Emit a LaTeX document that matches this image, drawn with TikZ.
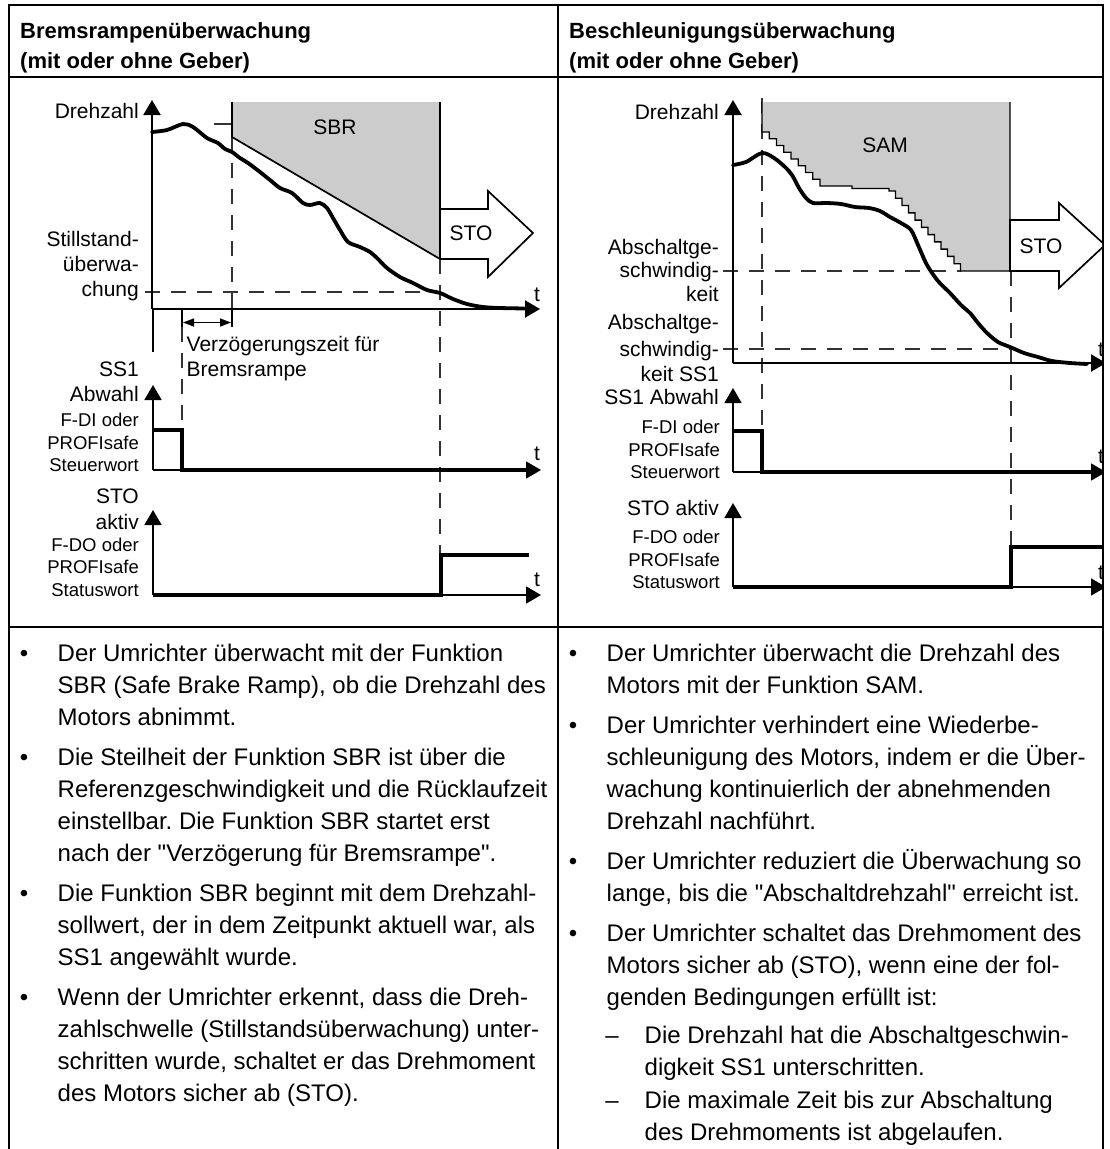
\documentclass[tikz,border=0pt]{standalone}
\usepackage{fontspec}
\setmainfont{Liberation Sans}[Ligatures=TeXOff]
\usetikzlibrary{arrows.meta}
\frenchspacing
\tikzset{
  frameline/.style={line width=2.4pt, black},
  axisline/.style={line width=2.2pt, -{Triangle[length=15pt,width=17pt]}},
  speedline/.style={line width=3.8pt, line join=round, line cap=round},
  sigline/.style={line width=3.4pt, line join=miter},
  guide/.style={line width=1.4pt, dash pattern=on 15pt off 11pt, black!80},
  zone/.style={fill=black!20},
  zoneedge/.style={line width=1.7pt, line join=miter},
  stoarrow/.style={fill=white, draw, line width=1.7pt, line join=miter},
  lbl/.style={font=\fontsize{21}{25}\selectfont, inner sep=0pt, anchor=base east},
  lblw/.style={font=\fontsize{21}{25}\selectfont, inner sep=0pt, anchor=base west},
  lblc/.style={font=\fontsize{21}{25}\selectfont, inner sep=0pt, anchor=base},
  smalllbl/.style={font=\fontsize{18.5}{22}\selectfont, inner sep=0pt, anchor=base east},
  body/.style={font=\fontsize{24}{32}\selectfont, inner sep=0pt, anchor=base west},
  bul/.style={font=\fontsize{24}{32}\selectfont, inner sep=0pt, anchor=base},
  head/.style={font=\bfseries\fontsize{22}{30}\selectfont, inner sep=0pt, anchor=base west},
}
\begin{document}
\begin{tikzpicture}[x=1pt,y=-1pt]
\useasboundingbox (0,0) rectangle (1109,1149);

% ---------- frame ----------
\draw[frameline] (9,1149) -- (9,5) -- (1103,5) -- (1103,1149);
\draw[frameline] (558,5) -- (558,1149);
\draw[frameline] (9,77) -- (1103,77);
\draw[frameline] (9,627) -- (1103,627);

% ---------- headers ----------
\node[head] (hl1) at (20,38) {Bremsrampenüberwachung};
\node[head] (hl2) at (20,68) {(mit oder ohne Geber)};
\node[head] (hr1) at (569,38) {Beschleunigungsüberwachung};
\node[head] (hr2) at (569,68) {(mit oder ohne Geber)};

% =============== LEFT DIAGRAM ===============
% guides
\draw[guide] (232,137) -- (232,309);
\draw[guide] (440,259) -- (440,555);
\draw[guide] (145,292) -- (440,292);
\draw[guide] (182,327) -- (182,430);
\draw[line width=1.4pt, black!80] (214,124) -- (232,124);
\draw[line width=1.3pt] (153,309) -- (153,352);
\draw[line width=1.3pt] (182,309) -- (182,327);
\draw[line width=1.3pt] (232,309) -- (232,327);
\draw[line width=1.5pt, {Triangle[length=11pt,width=8pt]}-{Triangle[length=11pt,width=8pt]}] (183,322.5) -- (231,322.5);

% SBR zone
\fill[zone] (232,102) -- (440,102) -- (440,259) -- (232,137) -- cycle;
\draw[zoneedge] (232,102) -- (232,137) -- (440,259) -- (440,102);
\node[lblc] (sbr) at (335,134) {SBR};

% STO arrow
\draw[stoarrow] (440,209) -- (488,209) -- (488,191) -- (533,233) -- (488,277) -- (488,259) -- (440,259) -- cycle;
\node[lblc] (stoL) at (471,240.5) {STO};

% axes
\draw[axisline] (152,309) -- (152,100);
\draw[axisline] (152,309) -- (540,309);
\draw[speedline] plot[smooth, tension=0.5] coordinates {(152,132) (167,130) (183,124) (193,127) (207,138) (218,143) (225,149) (232,152) (240,158) (248,163) (260,172) (270,180) (280,188) (292,193) (303,203) (310,205) (320,203) (327,208) (333,218) (340,230) (348,242) (360,247) (370,252) (377,258) (387,268) (400,277) (413,283) (427,290) (440,293) (453,299) (467,304) (483,307) (500,308) (525,308.5)};

\node[lbl] (drL) at (139,118.5) {Drehzahl};
\node[lbl] (st1) at (139,246.5) {Stillstand-};
\node[lbl] (st2) at (139,271.5) {überwa-};
\node[lbl] (st3) at (139,296.5) {chung};
\node[lblw] (tL1) at (534,301) {t};
\node[lblw] (vz1) at (186.5,351.5) {Verzögerungszeit für};
\node[lblw] (vz2) at (186.5,376.5) {Bremsrampe};

% SS1 plot
\draw[axisline, line width=1.8pt] (153,470) -- (153,385);
\draw[axisline, line width=1.8pt] (153,470) -- (541,470);
\draw[sigline] (153,430) -- (182,430) -- (182,470) -- (527,470);
\node[lbl] (ssL1) at (139,376.5) {SS1};
\node[lbl] (ssL2) at (139,401.5) {Abwahl};
\node[smalllbl] (fd1) at (139,426.5) {F-DI oder};
\node[smalllbl] (fd2) at (139,449) {PROFIsafe};
\node[smalllbl] (fd3) at (139,471.5) {Steuerwort};
\node[lblw] (tL2) at (534,460) {t};

% STO plot
\draw[axisline, line width=1.8pt] (153,595) -- (153,510);
\draw[axisline, line width=1.8pt] (153,595) -- (541,595);
\draw[sigline] (153,595) -- (441,595) -- (441,555) -- (529,555);
\node[lbl] (soL1) at (139,503.5) {STO};
\node[lbl] (soL2) at (139,529.5) {aktiv};
\node[smalllbl] (fo1) at (139,551) {F-DO oder};
\node[smalllbl] (fo2) at (139,573.5) {PROFIsafe};
\node[smalllbl] (fo3) at (139,596) {Statuswort};
\node[lblw] (tL3) at (534,586) {t};

% =============== RIGHT DIAGRAM ===============
\begin{scope}
\clip (559,78) rectangle (1102,626);
\draw[guide] (762,98) -- (762,431);
\draw[guide] (1011,271) -- (1011,547);
\draw[guide] (723,271) -- (961,271);
\draw[guide] (723,349) -- (1010,349);

% SAM zone with staircase
\fill[zone] (762,102) -- (762,132)
  \foreach \i in {1,...,8} { -- ++(7.25,0) -- ++(0,6.75) }
  -- (852,186) -- (852,188.5) -- (889,188.5) -- (889,191)
  \foreach \i in {1,...,11} { -- ++(6.5,0) -- ++(0,7.27) }
  -- (1010,271) -- (1010,102) -- cycle;
\draw[zoneedge, line width=1.4pt] (762,102) -- (762,132)
  \foreach \i in {1,...,8} { -- ++(7.25,0) -- ++(0,6.75) }
  -- (852,186) -- (852,188.5) -- (889,188.5) -- (889,191)
  \foreach \i in {1,...,11} { -- ++(6.5,0) -- ++(0,7.27) }
  -- (1010,271) -- (1010,102);
\node[lblc] (sam) at (885,152) {SAM};

% STO arrow
\draw[stoarrow] (1010,220) -- (1059,220) -- (1059,203) -- (1105,245) -- (1059,288) -- (1059,271) -- (1010,271) -- cycle;
\node[lblc] (stoR) at (1041,253.5) {STO};

% axes
\draw[axisline] (733,363) -- (733,100);
\draw[axisline] (733,363) -- (1106,363);
\draw[speedline] plot[smooth, tension=0.5] coordinates {(733,165) (746,162) (762,153) (774,158) (785,167) (792,175) (799,188) (806,198) (813,203) (827,203) (841,204) (855,207) (869,208) (880,211) (890,217) (901,223) (911,230) (918,245) (927,265) (938,281) (950,293) (961,305) (970,313) (978,323) (987,333) (998,342) (1010,347) (1024,353) (1038,357) (1052,361) (1070,363) (1087,364)};
\node[lblw] (tR1) at (1098,356) {t};

% SS1 plot
\draw[axisline, line width=1.8pt] (733,472) -- (733,388);
\draw[axisline, line width=1.8pt] (733,472) -- (1106,472);
\draw[sigline] (733,431) -- (762,431) -- (762,472) -- (1092,472);
\node[lblw] (tR2) at (1098,463) {t};

% STO plot
\draw[axisline, line width=1.8pt] (733,587) -- (733,503);
\draw[axisline, line width=1.8pt] (733,587) -- (1106,587);
\draw[sigline] (733,587) -- (1011,587) -- (1011,547) -- (1110,547);
\node[lblw] (tR3) at (1098,579) {t};
\end{scope}

\node[lbl] (drR) at (719,119.5) {Drehzahl};
\node[lbl] (ab1) at (719,254.5) {Abschaltge-};
\node[lbl] (ab2) at (719,277.5) {schwindig-};
\node[lbl] (ab3) at (719,301.5) {keit};
\node[lbl] (as1) at (719,329.5) {Abschaltge-};
\node[lbl] (as2) at (719,356) {schwindig-};
\node[lbl] (as3) at (719,381.5) {keit SS1};
\node[lbl] (as4) at (719,404.5) {SS1 Abwahl};
\node[smalllbl] (rfd1) at (720,433.5) {F-DI oder};
\node[smalllbl] (rfd2) at (720,456.5) {PROFIsafe};
\node[smalllbl] (rfd3) at (720,478.5) {Steuerwort};
\node[lbl] (rso) at (719,515.5) {STO aktiv};
\node[smalllbl] (rfo1) at (720,543.5) {F-DO oder};
\node[smalllbl] (rfo2) at (720,566.5) {PROFIsafe};
\node[smalllbl] (rfo3) at (720,588.5) {Statuswort};

% =============== LEFT TEXT ===============
\node[bul] (lb1) at (24,661) {•};
\node[body] (la1) at (57.5,661) {Der Umrichter überwacht mit der Funktion};
\node[body] (la2) at (57.5,693) {SBR (Safe Brake Ramp), ob die Drehzahl des};
\node[body] (la3) at (57.5,725) {Motors abnimmt.};
\node[bul] (lb2) at (24,765) {•};
\node[body] (lc1) at (57.5,765) {Die Steilheit der Funktion SBR ist über die};
\node[body] (lc2) at (57.5,797) {Referenzgeschwindigkeit und die Rücklaufzeit};
\node[body] (lc3) at (57.5,829) {einstellbar. Die Funktion SBR startet erst};
\node[body] (lc4) at (57.5,861) {nach der "Verzögerung für Bremsrampe".};
\node[bul] (lb3) at (24,901) {•};
\node[body] (ld1) at (57.5,901) {Die Funktion SBR beginnt mit dem Drehzahl-};
\node[body] (ld2) at (57.5,933) {sollwert, der in dem Zeitpunkt aktuell war, als};
\node[body] (ld3) at (57.5,965) {SS1 angewählt wurde.};
\node[bul] (lb4) at (24,1005) {•};
\node[body] (le1) at (57.5,1005) {Wenn der Umrichter erkennt, dass die Dreh-};
\node[body] (le2) at (57.5,1037) {zahlschwelle (Stillstandsüberwachung) unter-};
\node[body] (le3) at (57.5,1069) {schritten wurde, schaltet er das Drehmoment};
\node[body] (le4) at (57.5,1101) {des Motors sicher ab (STO).};

% =============== RIGHT TEXT ===============
\node[bul] (rb1) at (573,661) {•};
\node[body] (ra1) at (606.5,661) {Der Umrichter überwacht die Drehzahl des};
\node[body] (ra2) at (606.5,693) {Motors mit der Funktion SAM.};
\node[bul] (rb2) at (573,733) {•};
\node[body] (rc1) at (606.5,733) {Der Umrichter verhindert eine Wiederbe-};
\node[body] (rc2) at (606.5,765) {schleunigung des Motors, indem er die Über-};
\node[body] (rc3) at (606.5,797) {wachung kontinuierlich der abnehmenden};
\node[body] (rc4) at (606.5,829) {Drehzahl nachführt.};
\node[bul] (rb3) at (573,869) {•};
\node[body] (rd1) at (606.5,869) {Der Umrichter reduziert die Überwachung so};
\node[body] (rd2) at (606.5,901) {lange, bis die "Abschaltdrehzahl" erreicht ist.};
\node[bul] (rb4) at (573,941) {•};
\node[body] (re1) at (606.5,941) {Der Umrichter schaltet das Drehmoment des};
\node[body] (re2) at (606.5,973) {Motors sicher ab (STO), wenn eine der fol-};
\node[body] (re3) at (606.5,1005) {genden Bedingungen erfüllt ist:};
\node[bul] (rdash1) at (612,1043) {–};
\node[body] (rf1) at (644.5,1043) {Die Drehzahl hat die Abschaltgeschwin-};
\node[body] (rf2) at (644.5,1075) {digkeit SS1 unterschritten.};
\node[bul] (rdash2) at (612,1108) {–};
\node[body] (rg1) at (644.5,1108) {Die maximale Zeit bis zur Abschaltung};
\node[body] (rg2) at (644.5,1140) {des Drehmoments ist abgelaufen.};
\end{tikzpicture}
\end{document}
